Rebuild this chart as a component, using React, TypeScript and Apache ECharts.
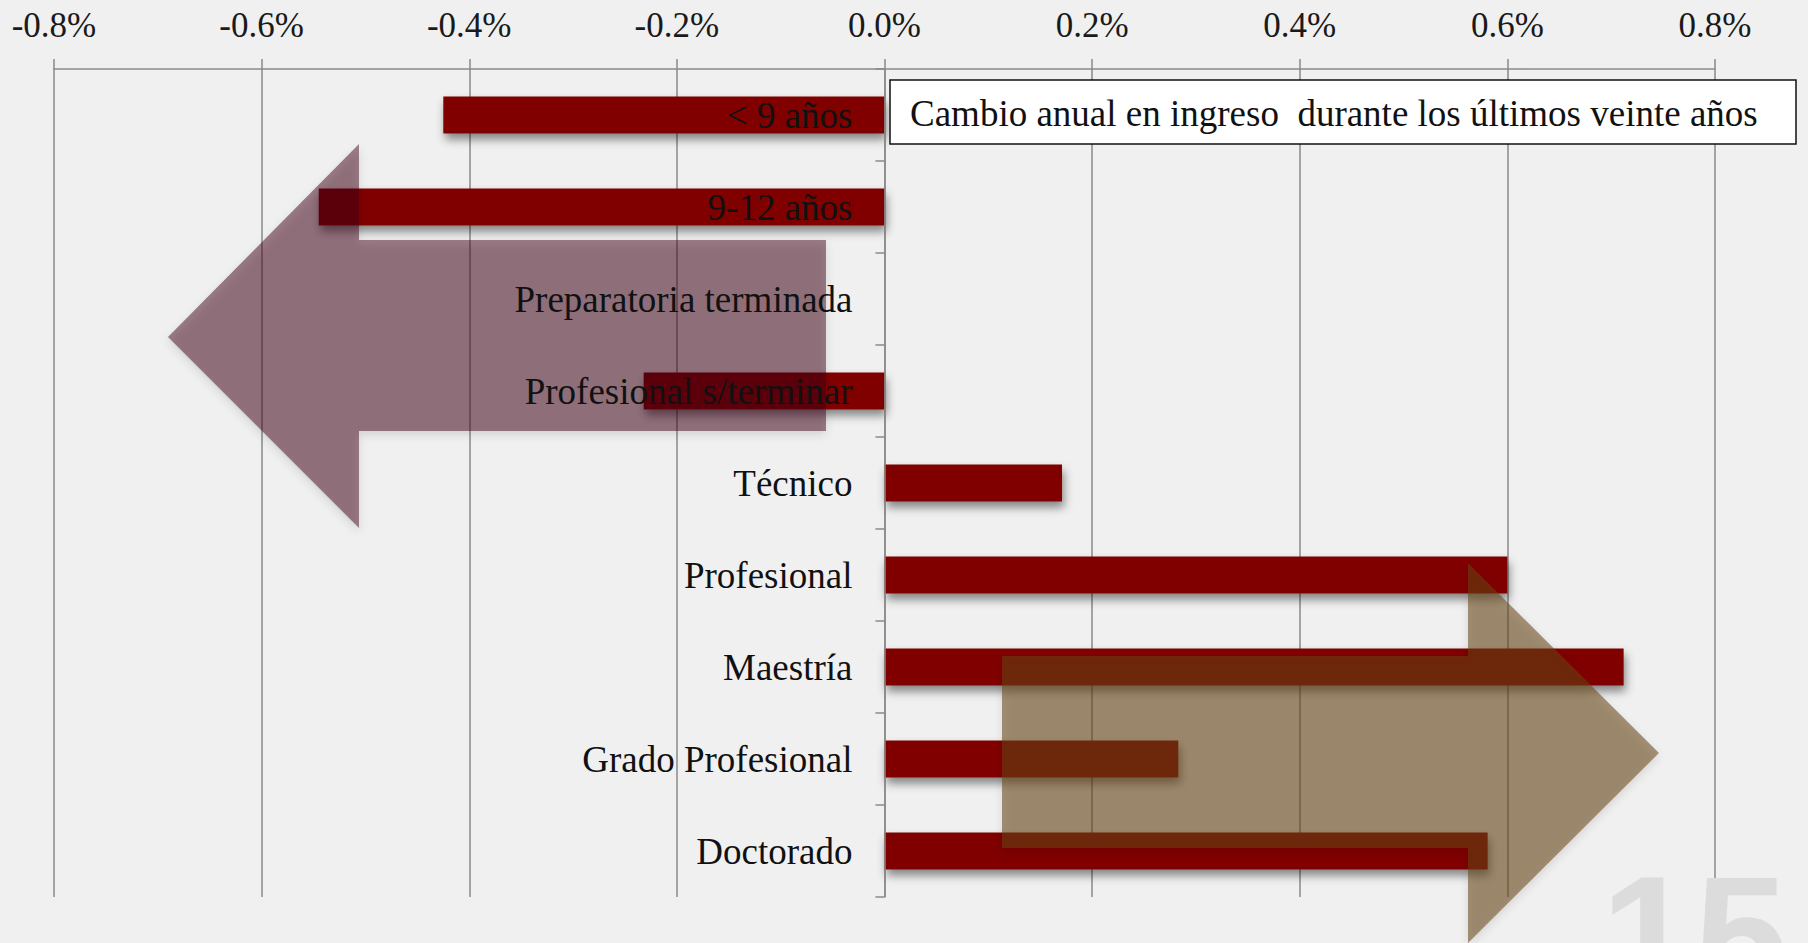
import React, { useEffect, useRef } from "react";
import * as echarts from "echarts";

const categories = [
  "< 9 años",
  "9-12 años",
  "Preparatoria terminada",
  "Profesional s/terminar",
  "Técnico",
  "Profesional",
  "Maestría",
  "Grado Profesional",
  "Doctorado",
];
const changePct = [-0.425, -0.545, 0, -0.232, 0.171, 0.6, 0.712, 0.283, 0.581];
const axisMin = -0.8;
const axisMax = 0.8;
const axisStep = 0.2;
const legendText = "Cambio anual en ingreso  durante los últimos veinte años";
const slideNumber = "15";

const FONT = "'Liberation Serif', 'Times New Roman', serif";

const W = 1808;
const H = 943;
const GRID_LEFT = 54;
const GRID_RIGHT = 93;
const LABEL_GAP = 32;

export default function App() {
  const ref = useRef<HTMLDivElement>(null);
  useEffect(() => {
    if (!ref.current) return;
    const chart = echarts.init(ref.current, undefined, { renderer: "svg" });
    const gridWidth = W - GRID_LEFT - GRID_RIGHT;
    const zeroOffset = ((0 - axisMin) / (axisMax - axisMin)) * gridWidth;
    const option: any = {
      animation: false,
      backgroundColor: "#f0f0f0",
      grid: {
        left: GRID_LEFT,
        right: GRID_RIGHT,
        top: 69,
        bottom: 46,
        containLabel: false,
        outerBoundsMode: "none",
      },
      xAxis: {
        type: "value",
        position: "top",
        min: axisMin,
        max: axisMax,
        interval: axisStep,
        axisLine: { show: true, lineStyle: { color: "#8a8a8a", width: 1.5 } },
        axisTick: { show: true, length: 10, lineStyle: { color: "#8a8a8a", width: 1.5 } },
        axisLabel: {
          margin: 26,
          fontFamily: FONT,
          fontSize: 35,
          color: "#1a1a1a",
          formatter: (v: number) => v.toFixed(1) + "%",
        },
        splitLine: { show: true, lineStyle: { color: "#8a8a8a", width: 1.5 } },
      },
      yAxis: {
        type: "category",
        inverse: true,
        data: categories,
        z: 11,
        axisLine: { show: true, onZero: true, lineStyle: { color: "#8a8a8a", width: 1.5 } },
        axisTick: { show: true, length: 9, lineStyle: { color: "#8a8a8a", width: 1.5 } },
        axisLabel: {
          interval: 0,
          margin: -(zeroOffset - LABEL_GAP),
          fontFamily: FONT,
          fontSize: 37,
          color: "#111111",
          align: "right",
        },
        splitLine: { show: false },
      },
      series: [
        {
          type: "bar",
          data: changePct.map((v) => (v === 0 ? "-" : v)),
          barWidth: 37,
          z: 2,
          itemStyle: {
            color: "#800404",
            shadowColor: "rgba(0,0,0,0.45)",
            shadowBlur: 10,
            shadowOffsetX: 2,
            shadowOffsetY: 6,
          },
        },
      ],
      graphic: [
        {
          type: "polygon",
          z: 10,
          shape: {
            points: [
              [168, 337],
              [359, 144],
              [359, 240],
              [826, 240],
              [826, 431],
              [359, 431],
              [359, 528],
            ],
          },
          style: {
            fill: "rgba(60,10,15,0.48)",
            shadowColor: "rgba(0,0,0,0.25)",
            shadowBlur: 8,
            shadowOffsetY: 4,
          },
        },
        {
          type: "polygon",
          z: 10,
          shape: {
            points: [
              [1002, 656],
              [1468, 656],
              [1468, 563],
              [1659, 753],
              [1468, 943],
              [1468, 848],
              [1002, 848],
            ],
          },
          style: {
            fill: "rgba(100,70,20,0.55)",
            shadowColor: "rgba(0,0,0,0.2)",
            shadowBlur: 8,
            shadowOffsetY: 4,
          },
        },
        {
          type: "rect",
          z: 12,
          shape: { x: 890, y: 80, width: 906, height: 64 },
          style: { fill: "#ffffff", stroke: "#111111", lineWidth: 1.5 },
        },
        {
          type: "text",
          z: 13,
          x: 910,
          y: 113,
          style: {
            text: legendText,
            fontFamily: FONT,
            fontSize: 37,
            fill: "#111111",
            verticalAlign: "middle",
            align: "left",
          },
        },
        {
          type: "text",
          z: 1,
          x: 1601,
          y: 936,
          style: {
            text: slideNumber,
            fontFamily: "'Liberation Sans', Arial, sans-serif",
            fontWeight: "bold",
            fontSize: 168,
            fill: "#dcdcdc",
            verticalAlign: "middle",
            align: "left",
          },
        },
      ],
    };
    chart.setOption(option);
    return () => chart.dispose();
  }, []);
  return (
    <div
      ref={ref}
      style={{ position: "fixed", left: 0, top: 0, width: W, height: H }}
    />
  );
}
